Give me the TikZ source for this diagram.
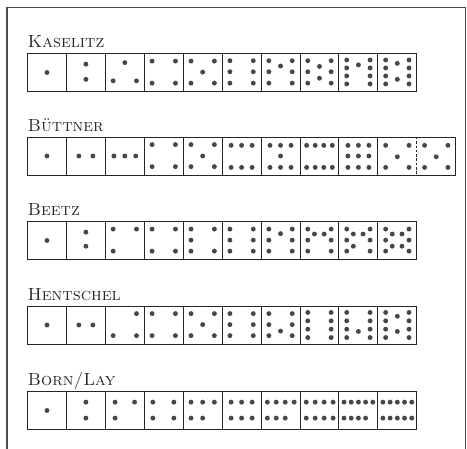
\documentclass[tikz,border=0pt]{standalone}
\usepackage{fontspec}
\usepackage{tikz}
\usetikzlibrary{positioning}

\newcommand{\cellw}{38.93}
\newcommand{\cellh}{38}
% one die face: top of the row, column, list of pip positions (fractions of the cell)
\newcommand{\face}[3]{%
  \foreach \px/\py in {#3}
    \fill[pip] ({27.5+\cellw*(#2-1+\px)},{#1+\cellh*\py}) circle[radius=2.45pt];
}
% a row of cells: top of the row, number of cells
\newcommand{\dierow}[2]{%
  \draw[diebox] (27.5,#1) rectangle ++({\cellw*#2},\cellh);
  \foreach \c in {1,...,9}
    \draw[diebox] ({27.5+\cellw*\c},#1) -- ++(0,\cellh);
}

\begin{document}
\begin{tikzpicture}[
x=1pt, y=-1pt,
diebox/.style={draw=black!85, line width=0.9pt},
pip/.style={fill=black!72},
rowtitle/.style={anchor=base west, inner sep=0pt, text=black!85, font=\fontsize{17.5}{17.5}\selectfont\scshape},
frame/.style={draw=black!70, line width=1.3pt}
]
\useasboundingbox (0,0) rectangle (467,449);
\draw[frame] (7,449) -- (7,7.3) -- (465.8,7.3) -- (465.8,449);

% Kaselitz
\node[rowtitle] (kaselitz) at (27.5,47.5) {Kaselitz};
\dierow{53.5}{10}
\face{53.5}{1}{0.5/0.5}
\face{53.5}{2}{0.5/0.28,0.5/0.68}
\face{53.5}{3}{0.5/0.24,0.2/0.72,0.8/0.72}
\face{53.5}{4}{0.2/0.2,0.8/0.2,0.2/0.78,0.8/0.78}
\face{53.5}{5}{0.2/0.2,0.8/0.2,0.5/0.49,0.2/0.78,0.8/0.78}
\face{53.5}{6}{0.2/0.19,0.8/0.19,0.2/0.48,0.8/0.48,0.2/0.78,0.8/0.78}
\face{53.5}{7}{0.2/0.19,0.8/0.19,0.5/0.33,0.2/0.48,0.8/0.48,0.2/0.78,0.8/0.78}
\face{53.5}{8}{0.2/0.19,0.8/0.19,0.5/0.34,0.2/0.48,0.8/0.48,0.5/0.65,0.2/0.78,0.8/0.78}
\face{53.5}{9}{0.2/0.17,0.2/0.38,0.2/0.59,0.2/0.8,0.5/0.3,0.8/0.17,0.8/0.38,0.8/0.59,0.8/0.8}
\face{53.5}{10}{0.2/0.17,0.2/0.38,0.2/0.59,0.2/0.8,0.5/0.26,0.5/0.68,0.8/0.17,0.8/0.38,0.8/0.59,0.8/0.8}

% Buettner
\node[rowtitle] (buettner) at (27.5,131.5) {Büttner};
\draw[diebox] (27.5,137) rectangle ++({\cellw*11},\cellh);
\foreach \c in {1,...,9}
  \draw[diebox] ({27.5+\cellw*\c},137) -- ++(0,\cellh);
\draw[diebox, dash pattern=on 2.5pt off 1.8pt] ({27.5+\cellw*10},137) -- ++(0,\cellh);
\face{137}{1}{0.5/0.5}
\face{137}{2}{0.32/0.5,0.68/0.5}
\face{137}{3}{0.22/0.5,0.5/0.5,0.78/0.5}
\face{137}{4}{0.2/0.2,0.8/0.2,0.2/0.78,0.8/0.78}
\face{137}{5}{0.2/0.2,0.8/0.2,0.5/0.5,0.2/0.78,0.8/0.78}
\face{137}{6}{0.23/0.22,0.5/0.22,0.77/0.22,0.23/0.8,0.5/0.8,0.77/0.8}
\face{137}{7}{0.23/0.22,0.5/0.22,0.77/0.22,0.5/0.5,0.23/0.8,0.5/0.8,0.77/0.8}
\face{137}{8}{0.17/0.22,0.39/0.22,0.61/0.22,0.83/0.22,0.17/0.8,0.39/0.8,0.61/0.8,0.83/0.8}
\face{137}{9}{0.23/0.22,0.5/0.22,0.77/0.22,0.23/0.5,0.5/0.5,0.77/0.5,0.23/0.8,0.5/0.8,0.77/0.8}
\face{137}{10}{0.2/0.22,0.8/0.22,0.5/0.52,0.2/0.8,0.8/0.8}
\face{137}{11}{0.2/0.22,0.8/0.22,0.5/0.52,0.2/0.8,0.8/0.8}

% Beetz
\node[rowtitle] (beetz) at (27.5,216) {Beetz};
\dierow{221.5}{10}
\face{221.5}{1}{0.5/0.5}
\face{221.5}{2}{0.5/0.28,0.5/0.65}
\face{221.5}{3}{0.2/0.2,0.8/0.2,0.2/0.78}
\face{221.5}{4}{0.2/0.2,0.8/0.2,0.2/0.78,0.8/0.78}
\face{221.5}{5}{0.2/0.2,0.8/0.2,0.2/0.49,0.2/0.78,0.8/0.78}
\face{221.5}{6}{0.2/0.2,0.8/0.2,0.2/0.49,0.8/0.49,0.2/0.78,0.8/0.78}
\face{221.5}{7}{0.2/0.2,0.8/0.2,0.5/0.32,0.2/0.49,0.8/0.49,0.2/0.78,0.8/0.78}
\face{221.5}{8}{0.2/0.2,0.8/0.2,0.37/0.33,0.62/0.33,0.2/0.49,0.8/0.49,0.2/0.78,0.8/0.78}
\face{221.5}{9}{0.2/0.2,0.8/0.2,0.37/0.33,0.62/0.33,0.2/0.49,0.8/0.49,0.37/0.65,0.2/0.78,0.8/0.78}
\face{221.5}{10}{0.2/0.2,0.8/0.2,0.37/0.33,0.62/0.33,0.2/0.49,0.8/0.49,0.37/0.65,0.62/0.65,0.2/0.78,0.8/0.78}

% Hentschel
\node[rowtitle] (hentschel) at (27.5,300.5) {Hentschel};
\dierow{306}{10}
\face{306}{1}{0.5/0.5}
\face{306}{2}{0.32/0.5,0.68/0.5}
\face{306}{3}{0.8/0.2,0.2/0.78,0.8/0.78}
\face{306}{4}{0.2/0.2,0.8/0.2,0.2/0.78,0.8/0.78}
\face{306}{5}{0.2/0.2,0.8/0.2,0.5/0.49,0.2/0.78,0.8/0.78}
\face{306}{6}{0.2/0.2,0.8/0.2,0.2/0.49,0.8/0.49,0.2/0.78,0.8/0.78}
\face{306}{7}{0.2/0.2,0.8/0.2,0.2/0.49,0.8/0.49,0.5/0.66,0.2/0.78,0.8/0.78}
\face{306}{8}{0.2/0.17,0.2/0.39,0.2/0.61,0.2/0.83,0.8/0.17,0.8/0.39,0.8/0.61,0.8/0.83}
\face{306}{9}{0.2/0.17,0.2/0.39,0.2/0.61,0.2/0.83,0.5/0.67,0.8/0.17,0.8/0.39,0.8/0.61,0.8/0.83}
\face{306}{10}{0.2/0.17,0.2/0.39,0.2/0.61,0.2/0.83,0.5/0.27,0.5/0.67,0.8/0.17,0.8/0.39,0.8/0.61,0.8/0.83}

% Born/Lay
\node[rowtitle] (bornlay) at (27.5,386) {Born/Lay};
\dierow{391.5}{10}
\face{391.5}{1}{0.5/0.5}
\face{391.5}{2}{0.5/0.28,0.5/0.7}
\face{391.5}{3}{0.25/0.28,0.75/0.28,0.25/0.7}
\face{391.5}{4}{0.22/0.28,0.76/0.28,0.22/0.7,0.76/0.7}
\face{391.5}{5}{0.2/0.28,0.5/0.28,0.8/0.28,0.2/0.7,0.5/0.7}
\face{391.5}{6}{0.23/0.28,0.5/0.28,0.77/0.28,0.23/0.7,0.5/0.7,0.77/0.7}
\face{391.5}{7}{0.16/0.28,0.39/0.28,0.62/0.28,0.85/0.28,0.16/0.7,0.39/0.7,0.62/0.7}
\face{391.5}{8}{0.16/0.28,0.39/0.28,0.62/0.28,0.85/0.28,0.16/0.7,0.39/0.7,0.62/0.7,0.85/0.7}
\face{391.5}{9}{0.13/0.28,0.315/0.28,0.5/0.28,0.685/0.28,0.87/0.28,0.13/0.7,0.315/0.7,0.5/0.7,0.685/0.7}
\face{391.5}{10}{0.13/0.28,0.315/0.28,0.5/0.28,0.685/0.28,0.87/0.28,0.13/0.7,0.315/0.7,0.5/0.7,0.685/0.7,0.87/0.7}
\end{tikzpicture}
\end{document}
